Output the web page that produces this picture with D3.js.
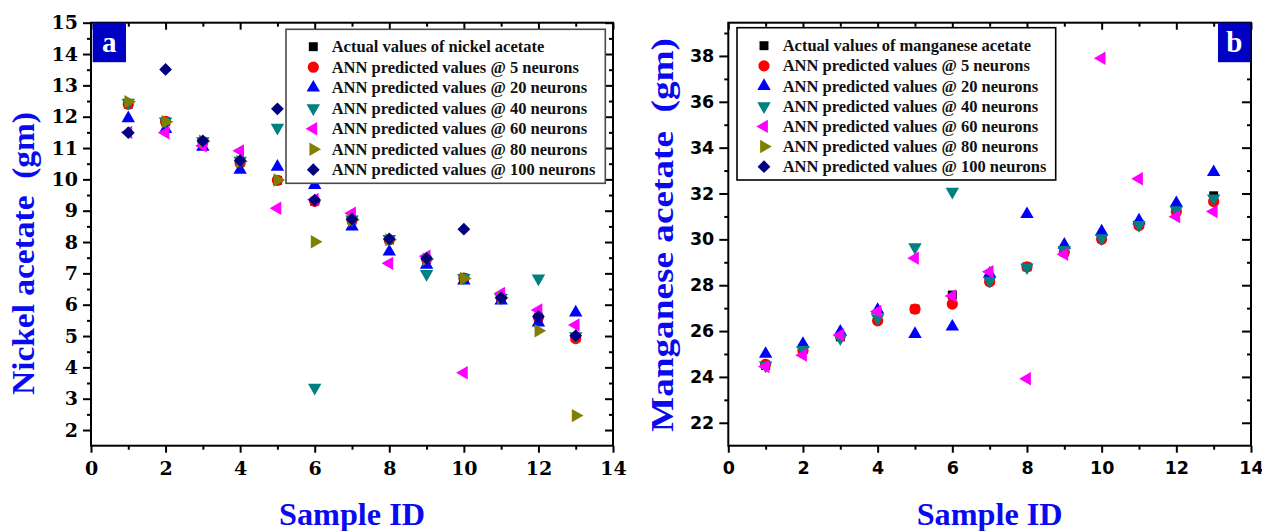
<!DOCTYPE html>
<html>
<head>
<meta charset="utf-8">
<script src="https://cdn.jsdelivr.net/npm/d3@7"></script>
<style>
  html, body { margin: 0; padding: 0; background: #fff; }
  svg { display: block; }
  .serif { font-family: "Liberation Serif", "DejaVu Serif", serif; font-weight: bold; }
  .tickSerif { font-family: "DejaVu Serif", serif !important; font-weight: bold !important; font-size: 19px !important; }
  .tickSans { font-family: "DejaVu Sans", sans-serif !important; font-weight: bold !important; font-size: 17.5px !important; }
</style>
</head>
<body>
<svg id="chart" width="1262" height="531"></svg>
<script>
// ---------------- DATA ----------------
const sampleIds = [1, 2, 3, 4, 5, 6, 7, 8, 9, 10, 11, 12, 13];

// Panel a : nickel acetate (gm)
const nickelActual = [12.4, 11.85, 11.2, 10.55, 9.97, 9.3, 8.7, 8.07, 7.45, 6.85, 6.22, 5.6, 4.95];
const nickel5      = [12.4, 11.85, 11.2, 10.52, 9.97, 9.3, 8.7, 8.07, 7.45, 6.85, 6.22, 5.6, 4.92];
const nickel20     = [11.95, 11.6, 11.04, 10.3, 10.4, 9.82, 8.49, 7.69, 7.27, 6.77, 6.13, 5.43, 5.75];
const nickel40     = [12.45, 11.85, 11.22, 10.6, 11.65, 3.35, 8.72, 8.1, 6.98, 6.86, 6.22, 6.84, 5.0];
const nickel60     = [11.5, 11.49, 11.07, 10.91, 9.08, 9.36, 8.92, 7.32, 7.55, 3.83, 6.36, 5.83, 5.35];
const nickel80     = [12.48, 11.84, 11.22, 10.57, 9.98, 8.01, 8.7, 8.07, 7.45, 6.84, 6.22, 5.17, 2.46];
const nickel100    = [11.49, 13.51, 11.23, 10.6, 12.25, 9.34, 8.73, 8.1, 7.48, 8.41, 6.22, 5.62, 5.01];

// Panel b : manganese acetate (gm)  (80 / 100 neuron series not visible in plot)
const manganeseActual = [24.5, 25.2, 25.75, 26.5, 26.96, 27.57, 28.2, 28.8, 29.45, 30.05, 30.65, 31.25, 31.9];
const manganese5      = [24.55, 25.15, 25.8, 26.45, 26.96, 27.18, 28.15, 28.8, 29.45, 30.0, 30.6, 31.21, 31.65];
const manganese20     = [25.0, 25.44, 25.97, 26.92, 25.87, 26.19, 28.5, 31.1, 29.76, 30.34, 30.82, 31.58, 32.93];
const manganese40     = [24.5, 25.18, 25.69, 26.56, 29.66, 32.08, 28.2, 28.78, 29.54, 30.05, 30.63, 31.28, 31.79];
const manganese60     = [24.45, 24.95, 25.83, 26.85, 29.18, 27.53, 28.59, 23.92, 29.35, 37.9, 32.64, 30.99, 31.21];
const manganese80     = [];
const manganese100    = [];

const nickelLegend = [
  "Actual values of nickel acetate",
  "ANN predicted values @ 5 neurons",
  "ANN predicted values @ 20 neurons",
  "ANN predicted values @ 40 neurons",
  "ANN predicted values @ 60 neurons",
  "ANN predicted values @ 80 neurons",
  "ANN predicted values @ 100 neurons"
];
const manganeseLegend = [
  "Actual values of manganese acetate",
  "ANN predicted values @ 5 neurons",
  "ANN predicted values @ 20 neurons",
  "ANN predicted values @ 40 neurons",
  "ANN predicted values @ 60 neurons",
  "ANN predicted values @ 80 neurons",
  "ANN predicted values @ 100 neurons"
];

const xTicks = [0, 2, 4, 6, 8, 10, 12, 14];
const xMinorTicks = [1, 3, 5, 7, 9, 11, 13];
const nickelYTicks = [2, 3, 4, 5, 6, 7, 8, 9, 10, 11, 12, 13, 14, 15];
const nickelYMinor = [2.5, 3.5, 4.5, 5.5, 6.5, 7.5, 8.5, 9.5, 10.5, 11.5, 12.5, 13.5, 14.5];
const manganeseYTicks = [22, 24, 26, 28, 30, 32, 34, 36, 38];
const manganeseYMinor = [23, 25, 27, 29, 31, 33, 35, 37, 39];

// ---------------- STYLE ----------------
const seriesStyle = [
  { color: "#000000", shape: "square", rot: 0 },
  { color: "#ff0000", shape: "circle", rot: 0 },
  { color: "#0000ff", shape: "triangle", rot: 0 },
  { color: "#008080", shape: "triangle", rot: 180 },
  { color: "#ff00ff", shape: "triangle", rot: -90 },
  { color: "#808000", shape: "triangle", rot: 90 },
  { color: "#000080", shape: "diamond", rot: 45 }
];
function symPath(shape) {
  if (shape === "square") return d3.symbol(d3.symbolSquare, 80)();
  if (shape === "circle") return d3.symbol(d3.symbolCircle, 100)();
  if (shape === "triangle") return d3.symbol(d3.symbolTriangle, 78)();
  return d3.symbol(d3.symbolSquare, 82)();
}

const svg = d3.select("#chart");

function drawPanel(cfg) {
  const g = svg.append("g");
  const x = d3.scaleLinear().domain([0, 14]).range([cfg.left, cfg.right]);
  const y = d3.scaleLinear().domain(cfg.yDomain).range([cfg.bottom, cfg.top]);

  // bottom axis (outward)
  g.append("g").attr("transform", `translate(0,${cfg.bottom})`)
    .call(d3.axisBottom(x).tickValues(xTicks).tickSize(7).tickPadding(cfg.xPad).tickSizeOuter(0));
  g.append("g").attr("transform", `translate(0,${cfg.bottom})`)
    .call(d3.axisBottom(x).tickValues(xMinorTicks).tickSize(4).tickFormat("").tickSizeOuter(0));
  // top axis (inward)
  g.append("g").attr("transform", `translate(0,${cfg.top})`)
    .call(d3.axisBottom(x).tickValues(xTicks).tickSize(7).tickFormat("").tickSizeOuter(0));
  g.append("g").attr("transform", `translate(0,${cfg.top})`)
    .call(d3.axisBottom(x).tickValues(xMinorTicks).tickSize(4).tickFormat("").tickSizeOuter(0));
  // left axis (outward)
  g.append("g").attr("transform", `translate(${cfg.left},0)`)
    .call(d3.axisLeft(y).tickValues(cfg.yTicks).tickSize(cfg.yMajor).tickPadding(cfg.yPad).tickSizeOuter(0));
  g.append("g").attr("transform", `translate(${cfg.left},0)`)
    .call(d3.axisLeft(y).tickValues(cfg.yMinor).tickSize(4).tickFormat("").tickSizeOuter(0));
  // right axis (inward)
  g.append("g").attr("transform", `translate(${cfg.right},0)`)
    .call(d3.axisLeft(y).tickValues(cfg.yTicks).tickSize(cfg.yMajor).tickFormat("").tickSizeOuter(0));
  g.append("g").attr("transform", `translate(${cfg.right},0)`)
    .call(d3.axisLeft(y).tickValues(cfg.yMinor).tickSize(4).tickFormat("").tickSizeOuter(0));

  g.selectAll(".domain").remove();
  g.selectAll(".tick line").attr("stroke", "#000").attr("stroke-width", 2);
  g.selectAll(".tick text")
    .attr("fill", "#000")
    .attr("class", cfg.tickClass);

  // frame
  g.append("rect").attr("x", cfg.left).attr("y", cfg.top)
    .attr("width", cfg.right - cfg.left).attr("height", cfg.bottom - cfg.top)
    .attr("fill", "none").attr("stroke", "#000").attr("stroke-width", 2);

  // points
  const plot = g.append("g");
  cfg.series.forEach((vals, si) => {
    const st = seriesStyle[si];
    plot.selectAll(null).data(vals.map((v, i) => ({ x: sampleIds[i], v })))
      .enter().append("path")
      .attr("d", symPath(st.shape))
      .attr("transform", d => `translate(${x(d.x)},${y(d.v)}) rotate(${st.rot})`)
      .attr("fill", st.color);
  });

  // legend
  const lg = g.append("g");
  lg.append("rect").attr("x", cfg.legend.x).attr("y", cfg.legend.y)
    .attr("width", cfg.legend.w).attr("height", cfg.legend.h)
    .attr("fill", "#fff").attr("stroke", cfg.legend.stroke).attr("stroke-width", 1.6);
  cfg.legendLabels.forEach((lab, i) => {
    const st = seriesStyle[i];
    const cy = cfg.legend.row0 + i * cfg.legend.step;
    lg.append("path").attr("d", symPath(st.shape))
      .attr("transform", `translate(${cfg.legend.symX},${cy}) rotate(${st.rot})`)
      .attr("fill", st.color);
    lg.append("text").attr("class", "serif").attr("x", cfg.legend.textX).attr("y", cy)
      .attr("dy", "0.34em").style("font-size", "16.5px").attr("fill", "#111").text(lab);
  });

  // panel letter
  g.append("rect").attr("x", cfg.tag.x).attr("y", cfg.top).attr("width", cfg.tag.w).attr("height", 39.5)
    .attr("fill", "#0000c4");
  g.append("text").attr("class", "serif").attr("x", cfg.tag.x + cfg.tag.w / 2).attr("y", 51.7)
    .attr("text-anchor", "middle").style("font-size", "29px").attr("fill", "#fff").text(cfg.tag.label);

  // axis titles
  g.append("text").attr("class", "serif")
    .attr("x", (cfg.left + cfg.right) / 2).attr("y", 525)
    .attr("text-anchor", "middle").style("font-size", "31px").attr("fill", "#0a0af0")
    .attr("textLength", 146).attr("lengthAdjust", "spacingAndGlyphs")
    .text("Sample ID");
  g.append("text").attr("class", "serif")
    .attr("transform", `translate(${cfg.yTitle.x},${cfg.yTitle.cy}) rotate(-90)`)
    .attr("text-anchor", "middle").style("font-size", "32px").attr("fill", "#0a0af0")
    .attr("textLength", cfg.yTitle.len).attr("lengthAdjust", "spacingAndGlyphs")
    .style("white-space", "pre")
    .text(cfg.yTitle.text);
}

drawPanel({
  left: 91, right: 613, top: 22.7, bottom: 445.7,
  yDomain: [1.5, 15], yTicks: nickelYTicks, yMinor: nickelYMinor, yMajor: 8,
  tickClass: "tickSerif", xPad: 9, yPad: 5,
  series: [nickelActual, nickel5, nickel20, nickel40, nickel60, nickel80, nickel100],
  legendLabels: nickelLegend,
  legend: { x: 286, y: 29.3, w: 319.3, h: 154, row0: 46.7, step: 20.5, symX: 313.3, textX: 331.7, stroke: "#4a4a4a" },
  tag: { x: 92.7, w: 33.3, label: "a" },
  yTitle: { x: 33.5, cy: 253.5, len: 283, text: "Nickel acetate  (gm)" }
});

drawPanel({
  left: 728.3, right: 1251, top: 22.7, bottom: 445.7,
  yDomain: [21, 39.45], yTicks: manganeseYTicks, yMinor: manganeseYMinor, yMajor: 9,
  tickClass: "tickSans", xPad: 9, yPad: 5,
  series: [manganeseActual, manganese5, manganese20, manganese40, manganese60, manganese80, manganese100],
  legendLabels: manganeseLegend,
  legend: { x: 737, y: 27.7, w: 318.7, h: 152.3, row0: 45.7, step: 20.17, symX: 764, textX: 782.7, stroke: "#000" },
  tag: { x: 1218, w: 32.5, label: "b" },
  yTitle: { x: 673.3, cy: 235, len: 394, text: "Manganese acetate  (gm)" }
});
</script>
</body>
</html>
